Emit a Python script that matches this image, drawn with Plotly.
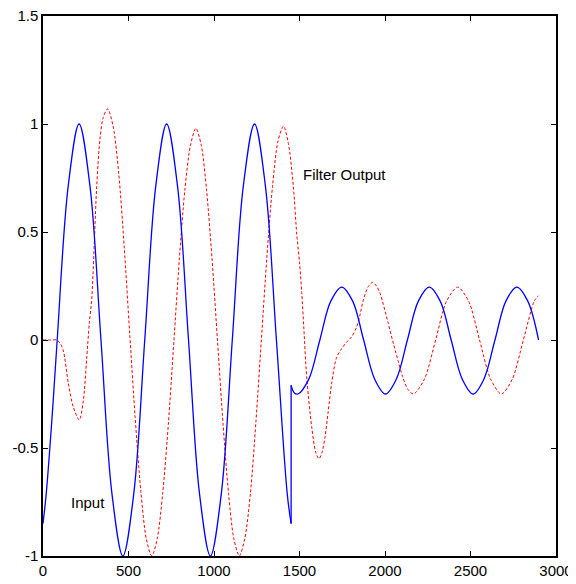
import plotly.graph_objects as go

# Input signal: first part, amplitude ~1
input_x1 = [0, 19, 51, 83, 147, 211, 275, 339, 403, 467, 531, 595, 659, 723, 787,
            851, 915, 979, 1043, 1107, 1171, 1237, 1301, 1365, 1428, 1451]
input_y1 = [-0.85, -0.71, -0.38, 0.0, 0.71, 1.0, 0.71, 0.0, -0.71, -1.0, -0.71, 0.0, 0.71, 1.0, 0.71,
            0.0, -0.71, -1.0, -0.71, 0.0, 0.71, 1.0, 0.71, 0.0, -0.71, -0.85]
# Input signal: second part, amplitude ~0.25
input_x2 = [1451, 1470, 1491, 1555, 1619, 1683, 1747, 1811, 1875, 1939, 2003, 2067, 2131, 2195,
            2259, 2323, 2387, 2451, 2515, 2579, 2643, 2707, 2771, 2835, 2898]
input_y2 = [-0.21, -0.245, -0.25, -0.18, 0.0, 0.18, 0.245, 0.18, 0.0, -0.18, -0.25, -0.18, 0.0, 0.18,
            0.245, 0.18, 0.0, -0.18, -0.25, -0.18, 0.0, 0.18, 0.245, 0.18, 0.0]

# Filter output
output_x = [0, 40, 80, 100, 119, 148, 177, 212, 236, 255, 271, 285, 314, 333, 352, 378,
            410, 443, 475, 507, 539, 572, 604, 636,
            668, 700, 733, 765, 797, 829, 862, 894,
            926, 957, 989, 1021, 1053, 1085, 1116, 1148,
            1180, 1213, 1245, 1277, 1309, 1342, 1374, 1406,
            1435, 1464, 1484, 1500, 1513, 1525, 1542, 1571, 1595, 1614, 1632, 1649, 1668, 1688,
            1717, 1747, 1775, 1805, 1834, 1855, 1873, 1902, 1928, 1950, 1971, 2019, 2050, 2078,
            2103, 2135, 2167, 2231, 2296, 2360, 2425, 2489, 2553, 2617, 2681, 2745, 2809, 2873, 2897]
output_y = [0.0, 0.0, 0.0, -0.015, -0.05, -0.2, -0.31, -0.37, -0.28, -0.09, 0.08, 0.19, 0.71, 0.93, 1.03, 1.07,
            0.99, 0.77, 0.43, 0.03, -0.36, -0.70, -0.92, -1.0,
            -0.92, -0.71, -0.39, -0.01, 0.37, 0.69, 0.90, 0.98,
            0.90, 0.69, 0.37, -0.01, -0.39, -0.71, -0.92, -1.0,
            -0.92, -0.71, -0.38, 0.0, 0.38, 0.71, 0.92, 0.99,
            0.91, 0.71, 0.49, 0.36, 0.22, 0.06, -0.17, -0.40, -0.52, -0.55, -0.52, -0.45, -0.33, -0.20,
            -0.08, -0.04, -0.01, 0.015, 0.06, 0.12, 0.185, 0.247, 0.267, 0.25, 0.216, 0.077, -0.02, -0.10,
            -0.17, -0.23, -0.25, -0.18, 0.0, 0.18, 0.245, 0.18, 0.0, -0.18, -0.25, -0.18, 0.0, 0.18, 0.205]

x_ticks = [0, 500, 1000, 1500, 2000, 2500, 3000]
y_ticks = [-1, -0.5, 0, 0.5, 1, 1.5]
y_tick_text = ["-1", "-0.5", "0", "0.5", "1", "1.5"]

labels = ["Filter Output", "Input"]
label_x = [1509, 154]
label_y = [0.765, -0.75]

blue = "#0000ff"
red = "#ff0000"
font_family = "Liberation Sans, Arial, sans-serif"

fig = go.Figure()
fig.add_trace(go.Scatter(x=output_x, y=output_y, mode="lines",
                         line=dict(color=red, width=1, dash="3px,2px", shape="spline", smoothing=0.8),
                         showlegend=False, hoverinfo="skip"))
fig.add_trace(go.Scatter(x=input_x1, y=input_y1, mode="lines",
                         line=dict(color=blue, width=1.3, shape="spline", smoothing=1),
                         showlegend=False, hoverinfo="skip"))
fig.add_trace(go.Scatter(x=[input_x1[-1], input_x2[0]], y=[input_y1[-1], input_y2[0]], mode="lines",
                         line=dict(color=blue, width=1.3),
                         showlegend=False, hoverinfo="skip"))
fig.add_trace(go.Scatter(x=input_x2, y=input_y2, mode="lines",
                         line=dict(color=blue, width=1.3, shape="spline", smoothing=1),
                         showlegend=False, hoverinfo="skip"))

for t, lx, ly in zip(labels, label_x, label_y):
    fig.add_annotation(x=lx, y=ly, text=t, showarrow=False, xanchor="left", yanchor="middle",
                       font=dict(family=font_family, size=15, color="#000000"))

axis_common = dict(showgrid=False, zeroline=False, showline=True, linecolor="#000000", linewidth=1.5,
                   mirror="ticks", ticks="inside", ticklen=5, tickcolor="#000000", tickwidth=1,
                   automargin=False, ticklabeloverflow="allow",
                   tickfont=dict(family=font_family, size=15, color="#000000"))

fig.update_xaxes(range=[0, 3000], tickvals=x_ticks, ticktext=[str(v) for v in x_ticks], **axis_common)
fig.update_yaxes(range=[-1, 1.5], tickvals=y_ticks, ticktext=y_tick_text, **axis_common)

# page body has an 8px margin, so the figure is 8px smaller and margins shifted accordingly
fig.update_layout(width=568, height=576, margin=dict(l=35, r=20, t=8, b=28, autoexpand=False),
                  plot_bgcolor="#ffffff", paper_bgcolor="#ffffff")

fig.write_html("out.html")
